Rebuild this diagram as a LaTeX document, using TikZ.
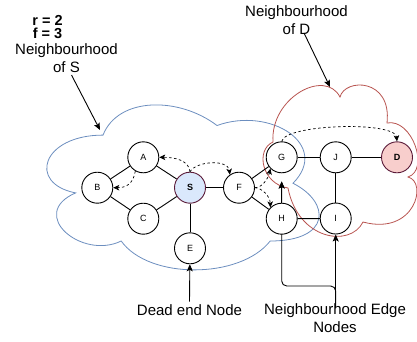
\documentclass[tikz,border=0pt]{standalone}
\usepackage{fontspec}
\setmainfont{Liberation Sans}
\usetikzlibrary{arrows.meta}
\definecolor{bluecl}{HTML}{6C8EBF}
\definecolor{redcl}{HTML}{B85450}
\definecolor{sfill}{HTML}{DAE8FC}
\definecolor{dfill}{HTML}{F8CECC}
\definecolor{hiedge}{HTML}{5A1A38}
\begin{document}
\begin{tikzpicture}[x=1pt,y=-1pt,
  vnode/.style={circle,draw=black,fill=white,line width=0.9pt,minimum size=31pt,inner sep=0pt,font=\fontsize{9}{10}\selectfont},
  edge/.style={line width=0.9pt,draw=black},
  dasharrow/.style={line width=0.7pt,dash pattern=on 2.5pt off 2.5pt,-{Stealth[length=6pt,width=5.5pt,inset=1.5pt]}},
  solidarrow/.style={line width=0.9pt,-{Stealth[length=7pt,width=6pt,inset=1.5pt]}},
  lbl/.style={font=\fontsize{15}{18}\selectfont,inner sep=0pt,anchor=base},
  boldlbl/.style={font=\bfseries\fontsize{14.5}{15}\selectfont,inner sep=0pt,anchor=base,text height=10.5pt,text depth=0pt},
  cloudline/.style={line width=0.8pt}]
\useasboundingbox (0,0) rectangle (417,341);

% clouds
\draw[cloudline,draw=bluecl] (103,135.1)
  .. controls (42.2,135.1) and (27,183.25) .. (75.6,192.9)
  .. controls (27,214.05) and (81.7,260.25) .. (121.2,241)
  .. controls (148.6,279.5) and (239.8,279.5) .. (270.2,241)
  .. controls (331,241) and (331,202.5) .. (293,183.25)
  .. controls (331,144.75) and (270.2,106.25) .. (217,125.5)
  .. controls (179,96.6) and (118.2,96.6) .. (103,135.1) -- cycle;
\draw[cloudline,draw=redcl] (273,142)
  .. controls (270,98) and (325,68) .. (340,97)
  .. controls (345,78) and (392,78) .. (387,123)
  .. controls (412,118) and (430,170) .. (408,177)
  .. controls (428,182) and (415,236) .. (363,222)
  .. controls (350,248) and (298,240) .. (288,188)
  .. controls (262,184) and (255,150) .. (273,142) -- cycle;

% coordinates for free ends
\coordinate (sTip) at (100,130);
\coordinate (sTail) at (71.5,75);
\coordinate (dTip) at (330,87);
\coordinate (dTail) at (304,33);
\coordinate (nsrc) at (335.7,308);
\coordinate (gtip) at (281.7,181.5);

% texts
\node[boldlbl] (rval) at (47.5,25) {r = 2};
\node[boldlbl] (fval) at (47.5,38.5) {f = 3};
\node[lbl] (nS1) at (66.5,54) {Neighbourhood};
\node[lbl] (nS2) at (66.5,72) {of S};
\node[lbl] (nD1) at (296.5,16.5) {Neighbourhood};
\node[lbl] (nD2) at (296.5,34.5) {of D};
\node[lbl] (deadend) at (189.5,315.7) {Dead end Node};
\node[lbl] (ne1) at (335,314) {Neighbourhood Edge};
\node[lbl] (ne2) at (335,332.5) {Nodes};

% label arrows (behind nodes)
\draw[solidarrow] (sTail) -- (sTip);
\draw[solidarrow] (dTail) -- (dTip);
\draw[solidarrow,rounded corners=5pt] (nsrc) -- ++(0,-22) -| (gtip);

% nodes
\node[vnode] (A) at (143.3,157.3) {A};
\node[vnode] (B) at (97.3,187.7) {B};
\node[vnode] (C) at (143.3,218.7) {C};
\node[vnode,fill=sfill,draw=hiedge,font=\bfseries\fontsize{9}{10}\selectfont] (S) at (190,187.7) {S};
\node[vnode] (E) at (190,248.3) {E};
\node[vnode] (F) at (239,187.7) {F};
\node[vnode] (G) at (281.7,157.3) {G};
\node[vnode] (H) at (281.7,218.7) {H};
\node[vnode] (J) at (335.7,157.3) {J};
\node[vnode] (I) at (335.7,218.5) {I};
\node[vnode,fill=dfill,draw=hiedge,font=\bfseries\fontsize{9}{10}\selectfont] (D) at (397,157.3) {D};

% solid edges
\draw[edge] (A) -- (B);
\draw[edge] (B) -- (C);
\draw[edge] (C) -- (S);
\draw[edge] (A) -- (S);
\draw[edge] (S) -- (F);
\draw[edge] (S) -- (E);
\draw[edge] (F) -- (G);
\draw[edge] (F) -- (H);
\draw[edge] (G) -- (J);
\draw[edge] (J) -- (D);
\draw[edge] (J) -- (I);
\draw[edge] (H) -- (I);

% arrows from labels to nodes
\draw[solidarrow] ([yshift=3pt]deadend.north) -- (E);
\draw[solidarrow] (nsrc) -- (I);
\draw[solidarrow] (H) -- (gtip);

% dashed curved arrows
\draw[dasharrow] (S.north) .. controls (189,160) and (174,157.3) .. (A.east);
\draw[dasharrow] (S.north) .. controls (196,161) and (228,159) .. (F.125);
\draw[dasharrow] (A.240) .. controls (133,185) and (125,187.7) .. (B.east);
\draw[dasharrow] (F.east) .. controls (262,187.7) and (268,179) .. (G.south west);
\draw[dasharrow] (F.east) .. controls (262,188) and (270,196) .. (H.north west);
\draw[dasharrow] (G.north) .. controls (285,124) and (395,121) .. (D.north);
\end{tikzpicture}
\end{document}
